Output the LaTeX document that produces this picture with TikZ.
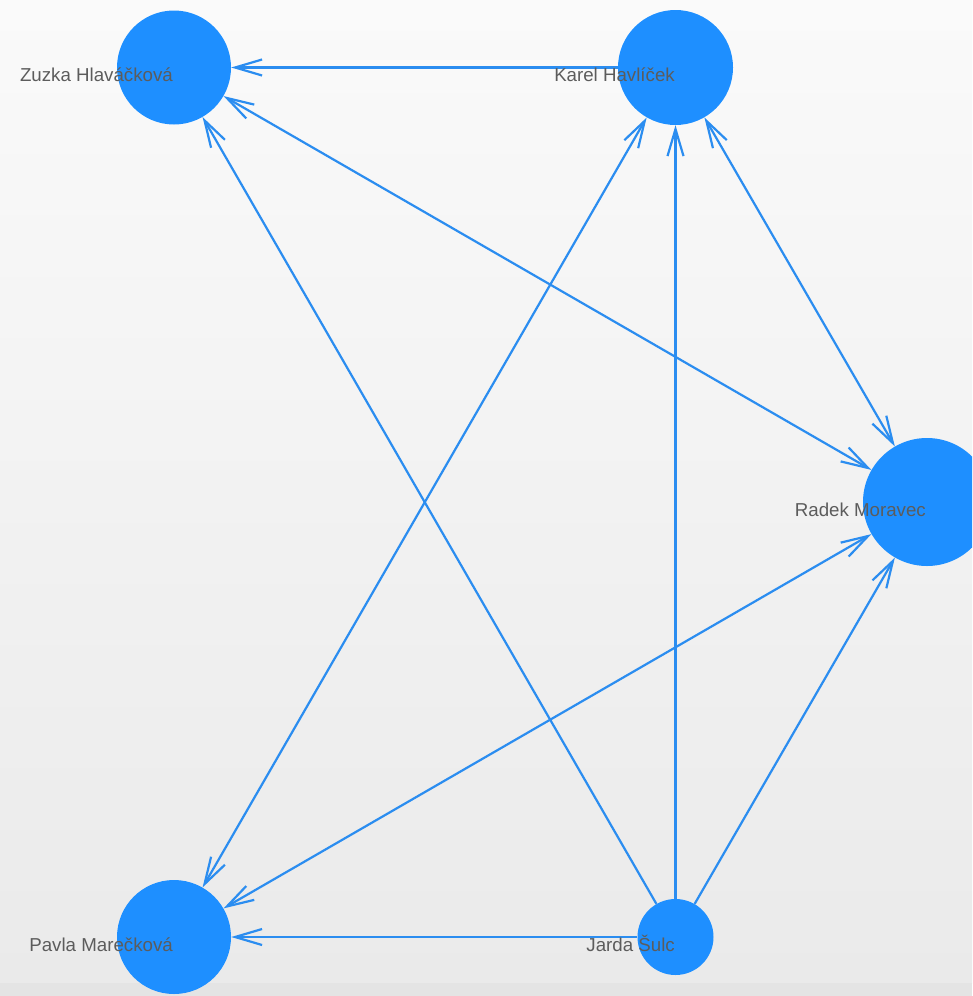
\documentclass[tikz,border=0pt]{standalone}
\usepackage{fontspec}
\setmainfont{Liberation Sans}
\usetikzlibrary{arrows.meta}
\definecolor{nodeblue}{HTML}{1E8FFF}
\definecolor{edgeblue}{HTML}{2B8DF0}
\definecolor{labelgray}{HTML}{5C5C5C}
\definecolor{bgtop}{HTML}{FAFAFA}
\definecolor{bgbot}{HTML}{EAEAEA}
\definecolor{bgstrip}{HTML}{E4E4E4}
\tikzset{
  person/.style={circle, fill=nodeblue, draw=none, inner sep=0pt, minimum size=#1},
  lbl/.style={anchor=base east, text=labelgray, font=\fontsize{18.7}{22}\selectfont, inner sep=0pt},
  link/.style={draw=edgeblue, line width=2.2pt},
  barb/.tip={Straight Barb[length=27pt,width=16pt,line width=2.2pt]},
  onearrow/.style={link, -barb},
  twoarrow/.style={link, barb-barb},
}
\begin{document}
\begin{tikzpicture}[x=1pt,y=-1pt]
  \clip (0,0) rectangle (972,996);
  \shade[top color=bgtop, bottom color=bgbot] (0,0) rectangle (972,983);
  \fill[color=bgstrip] (0,983) rectangle (972,996);

  \node[person=114] (Z) at (174,67.5) {};
  \node[person=115] (K) at (675.5,67.5) {};
  \node[person=128] (R) at (927,502) {};
  \node[person=114] (P) at (174,937) {};
  \node[person=76]  (J) at (675.5,937) {};

  \draw[onearrow] (K) -- (Z);
  \draw[twoarrow] (Z) -- (R);
  \draw[onearrow] (J) -- (Z);
  \draw[twoarrow] (K) -- (P);
  \draw[onearrow] (J) -- (K);
  \draw[twoarrow] (K) -- (R);
  \draw[twoarrow] (R) -- (P);
  \draw[onearrow] (J) -- (R);
  \draw[onearrow] (J) -- (P);

  \node[lbl] (Zl) at (173,81.5) {Zuzka Hlaváčková};
  \node[lbl] (Kl) at (675,81.5) {Karel Havlíček};
  \node[lbl] (Rl) at (926,516.5) {Radek Moravec};
  \node[lbl] (Pl) at (173,951) {Pavla Marečková};
  \node[lbl] (Jl) at (675,951) {Jarda Šulc};
\end{tikzpicture}
\end{document}
